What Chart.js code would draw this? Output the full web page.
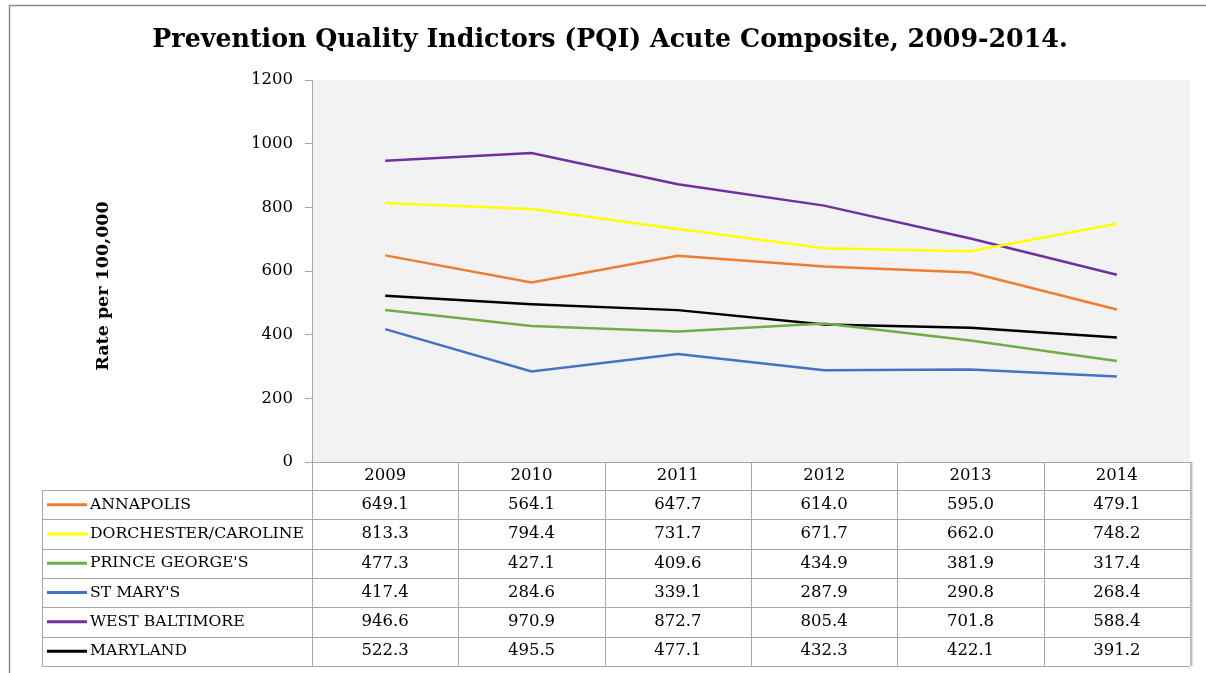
<!DOCTYPE html>
<html>
<head>
<meta charset="utf-8">
<script src="https://cdn.jsdelivr.net/npm/chart.js@4/dist/chart.umd.min.js"></script>
<style>
  html, body { margin: 0; padding: 0; background: #ffffff; }
  #wrap { width: 1206px; height: 673px; position: relative; }
</style>
</head>
<body>
<div id="wrap"><canvas id="c" width="1206" height="673"></canvas></div>
<script>
const years = ['2009', '2010', '2011', '2012', '2013', '2014'];
const seriesNames = ['ANNAPOLIS', 'DORCHESTER/CAROLINE', "PRINCE GEORGE'S", "ST MARY'S", 'WEST BALTIMORE', 'MARYLAND'];
const annapolis = [649.1, 564.1, 647.7, 614.0, 595.0, 479.1];
const dorchesterCaroline = [813.3, 794.4, 731.7, 671.7, 662.0, 748.2];
const princeGeorges = [477.3, 427.1, 409.6, 434.9, 381.9, 317.4];
const stMarys = [417.4, 284.6, 339.1, 287.9, 290.8, 268.4];
const westBaltimore = [946.6, 970.9, 872.7, 805.4, 701.8, 588.4];
const maryland = [522.3, 495.5, 477.1, 432.3, 422.1, 391.2];
const yMin = 0, yMax = 1200, yStep = 200;
const titleText = 'Prevention Quality Indictors (PQI) Acute Composite, 2009-2014.';
const yTitleText = 'Rate per 100,000';

const seriesValues = [annapolis, dorchesterCaroline, princeGeorges, stMarys, westBaltimore, maryland];
const seriesColors = ['#ED7D31', '#FFFF00', '#70AD47', '#4472C4', '#7030A0', '#000000'];

const SERIF = '"DejaVu Serif", "Liberation Serif", serif';
const GRID = '#a6a6a6';

const framePlugin = {
  id: 'framePlugin',
  beforeDraw(chart) {
    const ctx = chart.ctx, a = chart.chartArea;
    ctx.save();
    ctx.fillStyle = '#ffffff';
    ctx.fillRect(0, 0, chart.width, chart.height);
    ctx.strokeStyle = '#8c8c8c';
    ctx.lineWidth = 1.5;
    ctx.beginPath();
    ctx.moveTo(9.5, 700);
    ctx.lineTo(9.5, 5.5);
    ctx.lineTo(1206, 5.5);
    ctx.stroke();
    ctx.fillStyle = '#f2f2f2';
    ctx.fillRect(a.left, a.top, a.right - a.left, a.bottom - a.top);
    ctx.fillStyle = '#000000';
    let size = 28;
    ctx.font = 'bold ' + size + 'px ' + SERIF;
    const w = ctx.measureText(titleText).width;
    size = size * 916 / w;
    ctx.font = 'bold ' + size.toFixed(2) + 'px ' + SERIF;
    ctx.textAlign = 'center';
    ctx.textBaseline = 'middle';
    ctx.fillText(titleText, 610, 40);
    ctx.translate(103, 286);
    ctx.rotate(-Math.PI / 2);
    ctx.font = 'bold 17.5px ' + SERIF;
    ctx.fillText(yTitleText, 0, 0);
    ctx.restore();
  },
  afterDraw(chart) {
    const ctx = chart.ctx, a = chart.chartArea, xs = chart.scales.x;
    const n = years.length;
    const colW = (a.right - a.left) / n;
    const headTop = a.bottom, rowH = 29.3;
    const bodyTop = headTop + 28;
    const tableLeft = 42;
    const bottom = bodyTop + rowH * seriesNames.length;
    ctx.save();
    ctx.strokeStyle = GRID;
    ctx.lineWidth = 1;
    ctx.beginPath();
    for (let k = 0; k <= n; k++) {
      const x = Math.round(a.left + k * colW) + 0.5;
      ctx.moveTo(x, headTop);
      ctx.lineTo(x, bottom);
    }
    ctx.moveTo(tableLeft + 0.5, bodyTop);
    ctx.lineTo(tableLeft + 0.5, bottom);
    for (let r = 0; r <= seriesNames.length; r++) {
      const y = Math.round(bodyTop + r * rowH) + 0.5;
      ctx.moveTo(tableLeft, y);
      ctx.lineTo(a.right, y);
    }
    ctx.stroke();
    ctx.strokeStyle = '#c4c4c4';
    ctx.lineWidth = 2;
    ctx.beginPath();
    ctx.moveTo(Math.round(a.right) + 1.5, headTop);
    ctx.lineTo(Math.round(a.right) + 1.5, bottom);
    ctx.stroke();

    ctx.fillStyle = '#000000';
    ctx.textBaseline = 'middle';
    ctx.font = '16.5px ' + SERIF;
    ctx.textAlign = 'center';
    years.forEach((yr, i) => {
      ctx.fillText(yr, xs.getPixelForValue(i), headTop + 14);
    });
    seriesNames.forEach((name, r) => {
      const cy = bodyTop + r * rowH + rowH / 2;
      ctx.strokeStyle = seriesColors[r];
      ctx.lineWidth = 3;
      ctx.beginPath();
      ctx.moveTo(47, cy);
      ctx.lineTo(87, cy);
      ctx.stroke();
      ctx.font = '15.7px ' + SERIF;
      ctx.textAlign = 'left';
      ctx.fillText(name, 90, cy);
      ctx.font = '16.5px ' + SERIF;
      ctx.textAlign = 'center';
      seriesValues[r].forEach((v, i) => {
        ctx.fillText(v.toFixed(1), xs.getPixelForValue(i), cy);
      });
    });
    ctx.restore();
  }
};

new Chart(document.getElementById('c'), {
  type: 'line',
  data: {
    labels: years,
    datasets: seriesNames.map((name, i) => ({
      label: name,
      data: seriesValues[i],
      borderColor: seriesColors[i],
      backgroundColor: seriesColors[i],
      borderWidth: 2.5,
      pointRadius: 0,
      tension: 0,
      fill: false
    }))
  },
  options: {
    responsive: false,
    animation: false,
    layout: { padding: { top: 80, right: 16, left: 0, bottom: 0 } },
    plugins: { legend: { display: false }, title: { display: false }, tooltip: { enabled: false } },
    scales: {
      x: {
        offset: true,
        ticks: { display: false },
        grid: { display: false },
        border: { display: true, color: GRID, width: 1 },
        afterFit(s) { s.height = 211; }
      },
      y: {
        min: yMin,
        max: yMax,
        ticks: {
          stepSize: yStep,
          padding: 12,
          color: '#000000',
          font: { family: SERIF, size: 16.5 },
          callback: (v) => String(v)
        },
        grid: { display: true, drawOnChartArea: false, drawTicks: true, tickLength: 7, color: GRID },
        border: { display: true, color: GRID, width: 1 },
        afterFit(s) { s.width = 312; }
      }
    }
  },
  plugins: [framePlugin]
});
</script>
</body>
</html>
